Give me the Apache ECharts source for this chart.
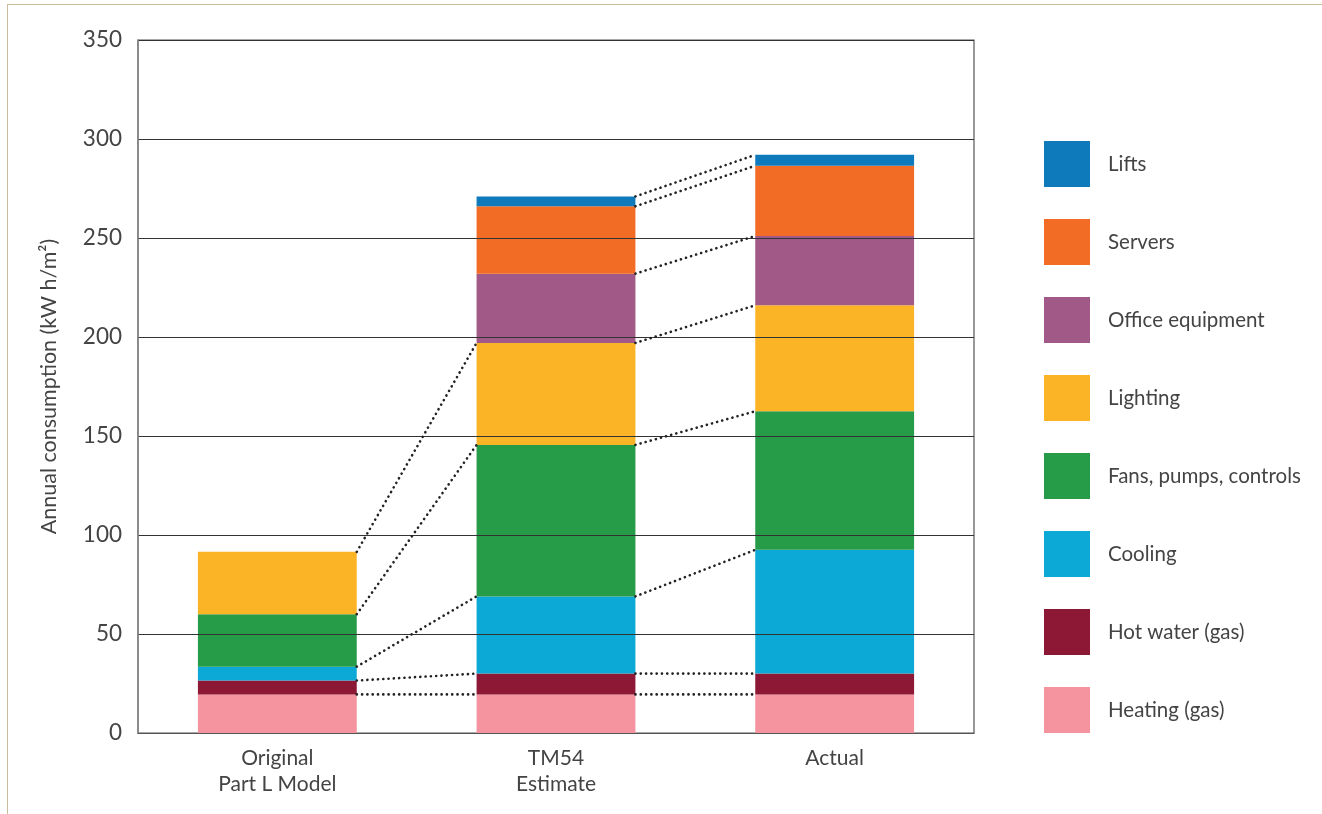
<!DOCTYPE html>
<html>
<head>
<meta charset="utf-8">
<script src="https://cdn.jsdelivr.net/npm/echarts@6/dist/echarts.min.js"></script>
<style>
  html, body { margin: 0; padding: 0; background: #fff; }
  #frame { position: absolute; left: 7px; top: 4px; right: 0; bottom: 0; border-left: 1.5px solid #c9bd9b; border-top: 1.5px solid #c9bd9b; }
  #chart { position: absolute; left: 0; top: 0; width: 1322px; height: 814px; }
</style>
</head>
<body>
<div id="frame"></div>
<div id="chart"></div>
<script>
const categories = ['Original\nPart L Model', 'TM54\nEstimate', 'Actual'];
const yTicks = [0, 50, 100, 150, 200, 250, 300, 350];

// series values (kW h/m²), bottom to top of the stack
const heating   = [19.5, 19.5, 19.5];
const hotWater  = [7,    10.5, 10.5];
const cooling   = [7,    39,   62.5];
const fans      = [26.5, 76.5, 70];
const lighting  = [31.5, 51.5, 53.5];
const officeEq  = [null, 35,   35];
const servers   = [null, 34,   35.5];
const lifts     = [null, 5,    5.5];

const seriesNames = ['Heating (gas)', 'Hot water (gas)', 'Cooling', 'Fans, pumps, controls', 'Lighting', 'Office equipment', 'Servers', 'Lifts'];
const seriesValues = [heating, hotWater, cooling, fans, lighting, officeEq, servers, lifts];
const seriesColors = ['#f5949e', '#8c1836', '#0ca8d6', '#269b48', '#fbb426', '#a15a88', '#f26c26', '#0f7abb'];

const BAR_FRAC = 0.57;

// cumulative tops per category
const tops = categories.map((c, ci) => {
  let s = 0;
  return seriesValues.map(arr => {
    if (arr[ci] == null) return null;
    s += arr[ci];
    return s;
  });
});

// connector data: [fromCategoryIndex, fromTop, toTop]
const connectors = [];
for (let ci = 0; ci < categories.length - 1; ci++) {
  for (let si = 0; si < seriesNames.length; si++) {
    const a = tops[ci][si], b = tops[ci + 1][si];
    if (a != null && b != null) connectors.push([ci, a, b]);
  }
}

const font = 'Lato, "Noto Sans", sans-serif';

const chart = echarts.init(document.getElementById('chart'));
const barSeries = seriesNames.map((name, i) => ({
  name: name,
  type: 'bar',
  stack: 'total',
  barWidth: (BAR_FRAC * 100) + '%',
  data: seriesValues[i],
  itemStyle: { color: seriesColors[i] },
  z: 2
}));

chart.setOption({
  animation: false,
  textStyle: { fontFamily: font },
  grid: { left: 138, right: 348, top: 40, bottom: 81, show: true, borderColor: '#555', borderWidth: 1.2, backgroundColor: 'transparent' },
  legend: {
    orient: 'vertical',
    left: 1039,
    top: 136,
    itemWidth: 46,
    itemHeight: 46,
    itemGap: 32,
    icon: 'rect',
    selectedMode: false,
    data: seriesNames.slice().reverse(),
    textStyle: { fontFamily: font, fontSize: 20.5, color: '#444', padding: [0, 0, 0, 13] }
  },
  xAxis: {
    type: 'category',
    data: categories,
    axisTick: { show: false },
    axisLine: { show: true, lineStyle: { color: '#555', width: 1.2 } },
    axisLabel: { fontFamily: font, fontSize: 21, color: '#444', lineHeight: 26, margin: 12 },
    z: 5
  },
  yAxis: {
    type: 'value',
    min: yTicks[0],
    max: yTicks[yTicks.length - 1],
    interval: 50,
    name: 'Annual consumption (kW h/m²)',
    nameLocation: 'middle',
    nameGap: 78,
    nameTextStyle: { fontFamily: font, fontSize: 21.5, color: '#444' },
    axisLine: { show: true, lineStyle: { color: '#888', width: 1.5 } },
    axisTick: { show: false },
    axisLabel: { fontFamily: font, fontSize: 22.5, color: '#444', margin: 16, padding: [6, 0, 0, 0] },
    splitLine: { show: true, lineStyle: { color: '#333', width: 1 } },
    z: 5
  },
  series: barSeries.concat([{
    type: 'custom',
    name: 'connectors',
    coordinateSystem: 'cartesian2d',
    data: connectors,
    encode: { x: 0, y: [1, 2] },
    z: 10,
    silent: true,
    renderItem: function (params, api) {
      const i = api.value(0);
      const a = api.value(1), b = api.value(2);
      const p0 = api.coord([i, a]);
      const p1 = api.coord([i + 1, b]);
      const band = api.size([1, 0])[0];
      const hw = band * BAR_FRAC / 2;
      return {
        type: 'line',
        shape: { x1: p0[0] + hw, y1: p0[1], x2: p1[0] - hw, y2: p1[1] },
        style: { stroke: '#222', lineWidth: 2.6, lineDash: [0.1, 5.2], lineCap: 'round' }
      };
    }
  }])
});
</script>
</body>
</html>
